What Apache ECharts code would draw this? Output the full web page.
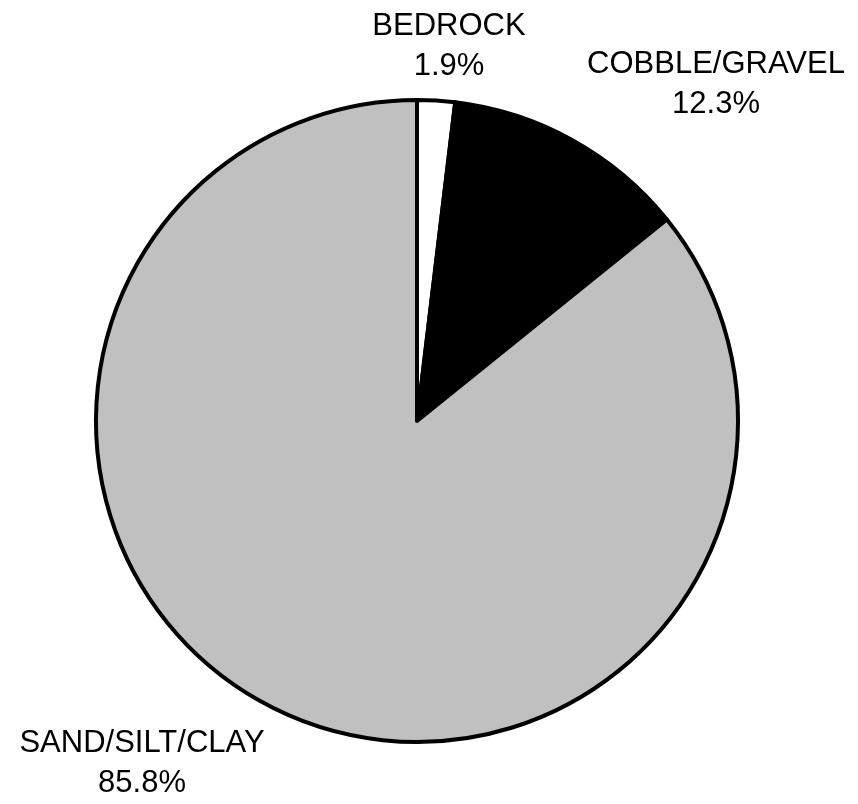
<!DOCTYPE html>
<html>
<head>
<meta charset="utf-8">
<script src="https://cdn.jsdelivr.net/npm/echarts@6/dist/echarts.min.js"></script>
<style>html,body{margin:0;padding:0;background:#fff}#c{width:858px;height:804px}</style>
</head>
<body>
<div id="c"></div>
<script>
const categories = ['BEDROCK', 'COBBLE/GRAVEL', 'SAND/SILT/CLAY'];
const percents = [1.9, 12.3, 85.8];
const colors = ['#ffffff', '#000000', '#c0c0c0'];

const labelPos = [[449, 46], [716, 84], [142, 763]];

const chart = echarts.init(document.getElementById('c'), null, {renderer: 'canvas'});
chart.setOption({
  animation: false,
  backgroundColor: '#ffffff',
  series: [{
    type: 'pie',
    center: [417, 421],
    radius: 321,
    startAngle: 90,
    clockwise: true,
    avoidLabelOverlap: false,
    data: categories.map((c, i) => ({name: c, value: percents[i], itemStyle: {color: colors[i]}})),
    itemStyle: {borderColor: '#000', borderWidth: 4},
    label: {
      show: true,
      position: 'outside',
      formatter: p => p.name + '\n' + p.value.toFixed(1) + '%',
      fontFamily: 'Liberation Sans, Arial, sans-serif',
      fontSize: 31,
      lineHeight: 40,
      color: '#000',
      align: 'center'
    },
    labelLine: {show: false},
    labelLayout: p => ({x: labelPos[p.dataIndex][0], y: labelPos[p.dataIndex][1], align: 'center', verticalAlign: 'middle'}),
    emphasis: {disabled: true}
  }]
});
</script>
</body>
</html>
